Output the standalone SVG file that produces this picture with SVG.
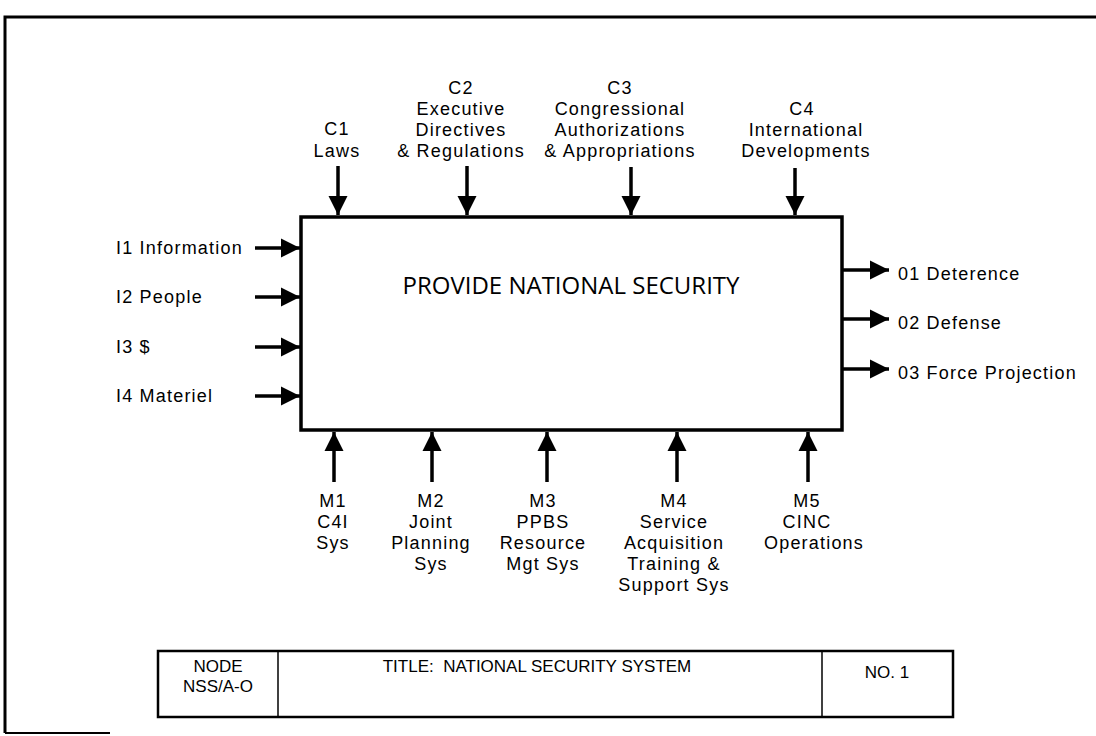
<svg xmlns="http://www.w3.org/2000/svg" width="1096" height="736" viewBox="0 0 1096 736">
<defs>
<marker id="ah" viewBox="0 0 10 10" refX="10" refY="5" markerWidth="5.5" markerHeight="6" markerUnits="strokeWidth" orient="auto">
<path d="M0,0 L10,5 L0,10 Z" fill="#000"/>
</marker>
<style>
text{font-family:"Liberation Sans",Arial,sans-serif;font-size:18px;letter-spacing:1.2px;fill:#000}
.c{text-anchor:middle}
.big{font-family:"Open Sans","Liberation Sans",sans-serif;font-size:24px;letter-spacing:0}
.tb{font-size:17px;letter-spacing:0}
.ln{stroke:#000;stroke-width:3.5;fill:none}
.box{stroke:#000;stroke-width:3.5;fill:#fff}
</style>
</defs>
<rect width="1096" height="736" fill="#fff"/>
<g id="frame">
<path d="M5,733 L5,17 L1096,17" stroke="#000" stroke-width="3" fill="none"/>
<line x1="5" y1="733" x2="110" y2="733" stroke="#000" stroke-width="2"/>
</g>
<g id="connectors">
<line class="ln" x1="338" y1="166" x2="338" y2="215" marker-end="url(#ah)"/>
<line class="ln" x1="467" y1="166" x2="467" y2="215" marker-end="url(#ah)"/>
<line class="ln" x1="631" y1="167" x2="631" y2="215" marker-end="url(#ah)"/>
<line class="ln" x1="795" y1="168" x2="795" y2="215" marker-end="url(#ah)"/>
<line class="ln" x1="255" y1="248" x2="300" y2="248" marker-end="url(#ah)"/>
<line class="ln" x1="255" y1="297" x2="300" y2="297" marker-end="url(#ah)"/>
<line class="ln" x1="255" y1="347" x2="300" y2="347" marker-end="url(#ah)"/>
<line class="ln" x1="255" y1="396" x2="300" y2="396" marker-end="url(#ah)"/>
<line class="ln" x1="843" y1="270" x2="889" y2="270" marker-end="url(#ah)"/>
<line class="ln" x1="843" y1="319" x2="889" y2="319" marker-end="url(#ah)"/>
<line class="ln" x1="843" y1="369" x2="889" y2="369" marker-end="url(#ah)"/>
<line class="ln" x1="334" y1="482" x2="334" y2="432" marker-end="url(#ah)"/>
<line class="ln" x1="432" y1="482" x2="432" y2="432" marker-end="url(#ah)"/>
<line class="ln" x1="547" y1="482" x2="547" y2="432" marker-end="url(#ah)"/>
<line class="ln" x1="677" y1="482" x2="677" y2="432" marker-end="url(#ah)"/>
<line class="ln" x1="808" y1="482" x2="808" y2="432" marker-end="url(#ah)"/>
</g>
<g id="main">
<rect class="box" x="301" y="217" width="541" height="213"/>
<text class="c big" x="571" y="294">PROVIDE NATIONAL SECURITY</text>
</g>
<g id="c1"><text class="c" x="337" y="135">C1</text><text class="c" x="337" y="157">Laws</text></g>
<g id="c2"><text class="c" x="461" y="94">C2</text><text class="c" x="461" y="115">Executive</text><text class="c" x="461" y="136">Directives</text><text class="c" x="461" y="157">&amp; Regulations</text></g>
<g id="c3"><text class="c" x="620" y="94">C3</text><text class="c" x="620" y="115">Congressional</text><text class="c" x="620" y="136">Authorizations</text><text class="c" x="620" y="157">&amp; Appropriations</text></g>
<g id="c4"><text class="c" x="802" y="115">C4</text><text class="c" x="806" y="136">International</text><text class="c" x="806" y="157">Developments</text></g>
<g id="i1"><text x="116" y="254">I1 Information</text></g>
<g id="i2"><text x="116" y="303">I2 People</text></g>
<g id="i3"><text x="116" y="353">I3 $</text></g>
<g id="i4"><text x="116" y="402">I4 Materiel</text></g>
<g id="o1"><text x="898" y="280">01 Deterence</text></g>
<g id="o2"><text x="898" y="329">02 Defense</text></g>
<g id="o3"><text x="898" y="379">03 Force Projection</text></g>
<g id="m1"><text class="c" x="333" y="507">M1</text><text class="c" x="333" y="528">C4I</text><text class="c" x="333" y="549">Sys</text></g>
<g id="m2"><text class="c" x="431" y="507">M2</text><text class="c" x="431" y="528">Joint</text><text class="c" x="431" y="549">Planning</text><text class="c" x="431" y="570">Sys</text></g>
<g id="m3"><text class="c" x="543" y="507">M3</text><text class="c" x="543" y="528">PPBS</text><text class="c" x="543" y="549">Resource</text><text class="c" x="543" y="570">Mgt Sys</text></g>
<g id="m4"><text class="c" x="674" y="507">M4</text><text class="c" x="674" y="528">Service</text><text class="c" x="674" y="549">Acquisition</text><text class="c" x="674" y="570">Training &amp;</text><text class="c" x="674" y="591">Support Sys</text></g>
<g id="m5"><text class="c" x="807" y="507">M5</text><text class="c" x="807" y="528">CINC</text><text class="c" x="814" y="549">Operations</text></g>
<g id="titleblock">
<rect x="158" y="651" width="795" height="66" fill="#fff" stroke="#000" stroke-width="2.5"/>
<line x1="278" y1="651" x2="278" y2="717" stroke="#000" stroke-width="1.5"/>
<line x1="822" y1="651" x2="822" y2="717" stroke="#000" stroke-width="1.5"/>
<text class="c tb" x="218" y="672">NODE</text>
<text class="c tb" x="218" y="692">NSS/A-O</text>
<text class="c tb" x="537" y="672">TITLE:&#160; NATIONAL SECURITY SYSTEM</text>
<text class="c tb" x="887" y="678">NO. 1</text>
</g>
</svg>
